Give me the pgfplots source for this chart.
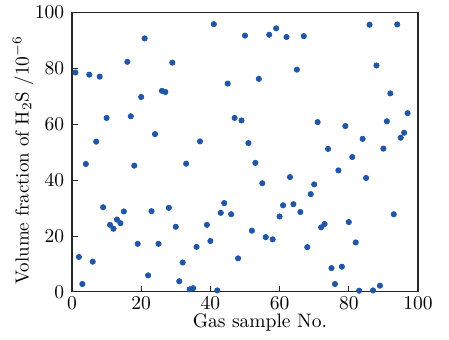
\documentclass[border=0pt]{standalone}
\usepackage{pgfplots}
\pgfplotsset{compat=1.18}
\definecolor{dotblue}{RGB}{32,86,168}
\begin{document}
\begin{tikzpicture}
\begin{axis}[
  scale only axis,
  width=177.4pt, height=143.1pt,
  xmin=0, xmax=100, ymin=0, ymax=100,
  xtick={0,20,40,60,80,100},
  ytick={0,20,40,60,80,100},
  tick align=inside,
  xtick pos=bottom, ytick pos=left,
  major tick length=3pt,
  axis line style={line width=0.55pt, black!85},
  tick style={line width=0.5pt, black!85},
  xticklabel style={yshift=1pt},
  yticklabel style={xshift=-0.5pt},
  xlabel={Gas sample No.},
  ylabel={Volume fraction of H$_2$S /$10^{-6}$},
  xlabel style={at={(rel axis cs:0.543,-0.1265)}, anchor=base},
  ylabel style={at={(rel axis cs:-0.1416,0.472)}, anchor=center, font=\fontsize{9.7}{11}\selectfont},
  clip=false,
]
\addplot[only marks, mark=*, mark size=1.35pt, color=dotblue, mark options={draw=dotblue, fill=dotblue}] coordinates {
(1,78.6) (2,12.5) (3,2.8) (4,45.8) (5,77.8) (6,10.8) (7,53.8) (8,77.1) (9,30.3) (10,62.3)
(11,24.0) (12,22.6) (13,25.9) (14,24.6) (15,28.8) (16,82.4) (17,62.9) (18,45.2) (19,17.2) (20,69.8)
(21,90.8) (22,5.9) (23,28.9) (24,56.5) (25,17.2) (26,72.0) (27,71.6) (28,30.1) (29,82.1) (30,23.3)
(31,3.8) (32,10.5) (33,45.9) (34,0.9) (35,1.3) (36,16.1) (37,53.9) (39,24.0) (40,18.2)
(41,95.9) (42,0.5) (43,28.3) (44,31.8) (45,74.6) (46,27.8) (47,62.3) (48,12.0) (49,61.4) (50,91.8)
(51,53.3) (52,21.9) (53,46.2) (54,76.3) (55,38.9) (56,19.6) (57,92.1) (58,18.8) (59,94.4) (60,27.0)
(61,31.0) (62,91.3) (63,41.1) (64,31.4) (65,79.6) (66,28.6) (67,91.6) (68,16.0) (69,35.0) (70,38.5)
(71,60.8) (72,23.1) (73,24.3) (74,51.2) (75,8.5) (76,2.8) (77,43.5) (78,9.0) (79,59.4) (80,25.0)
(81,48.3) (82,17.7) (83,0.4) (84,54.8) (85,40.8) (86,95.7) (87,0.5) (88,81.1) (89,2.2) (90,51.3)
(91,61.1) (92,71.1) (93,27.8) (94,95.8) (95,55.2) (96,57.0) (97,64.0)
};
\coordinate (bbbl) at (rel axis cs:-0.208,-0.1695);
\coordinate (bbtr) at (rel axis cs:1.0896,1.0455);
\end{axis}
\pgfresetboundingbox
\path (bbbl) rectangle (bbtr);
\end{tikzpicture}
\end{document}
